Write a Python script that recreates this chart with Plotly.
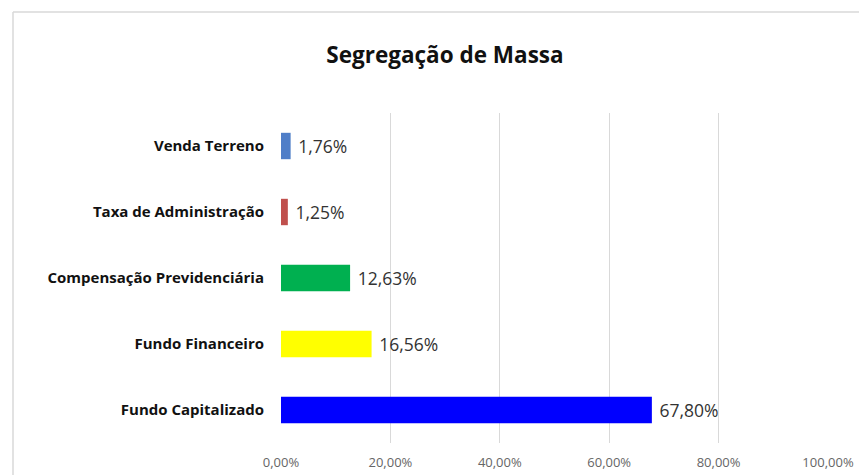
import plotly.graph_objects as go

categories = ["Venda Terreno", "Taxa de Administração", "Compensação Previdenciária",
              "Fundo Financeiro", "Fundo Capitalizado"]
values = [1.76, 1.25, 12.63, 16.56, 67.80]
bar_colors = ["#4F7EC8", "#C0504D", "#00B050", "#FFFF00", "#0000FF"]
tick_values = [0, 20, 40, 60, 80, 100]
tick_labels = ["0,00%", "20,00%", "40,00%", "60,00%", "80,00%", "100,00%"]

labels = [" " + f"{v:.2f}".replace(".", ",") + "%" for v in values]

OFF = 8  # page body margin
W, H = 867 - OFF, 475 - OFF
L, T = 281 - OFF, 113 - OFF
pw, ph = 547, 330
R = W - L - pw
B = H - T - ph

FONT = "Open Sans, Lato, sans-serif"

fig = go.Figure(go.Bar(
    x=values, y=categories, orientation="h",
    marker=dict(color=bar_colors, line=dict(width=0)),
    text=labels, textposition="outside", cliponaxis=False,
    textfont=dict(family=FONT, size=17.5, color="#333333"),
    hoverinfo="skip",
))

def px_x(p):
    return (p - OFF - L) / pw
def px_y(p):
    return 1 - (p - OFF - T) / ph

fig.update_layout(
    width=W, height=H,
    margin=dict(l=L, r=R, t=T, b=B, autoexpand=False),
    paper_bgcolor="white", plot_bgcolor="white",
    bargap=0.6,
    showlegend=False,
    title=dict(text="<b>Segregação de Massa</b>", x=(445 - OFF) / W, y=1 - (55 - OFF) / H,
               xanchor="center", yanchor="middle",
               font=dict(family=FONT, size=22.5, color="#111111")),
    xaxis=dict(range=[0, 100], tickvals=tick_values, ticktext=tick_labels,
               automargin=False,
               showgrid=True, gridcolor="#D9D9D9", gridwidth=1, zeroline=False,
               showline=False, ticks="", ticklabelstandoff=10,
               tickfont=dict(family=FONT, size=13, color="#666666")),
    yaxis=dict(autorange="reversed", showgrid=False, zeroline=False, showline=False,
               automargin=False,
               ticks="", ticklabelstandoff=16,
               tickfont=dict(family=FONT, size=15, color="#111111", weight="bold")),
    shapes=[
        dict(type="line", xref="paper", yref="paper", x0=px_x(13), x1=px_x(880),
             y0=px_y(12), y1=px_y(12), line=dict(color="#D9D9D9", width=1.5)),
        dict(type="line", xref="paper", yref="paper", x0=px_x(13), x1=px_x(13),
             y0=px_y(12), y1=px_y(490), line=dict(color="#D9D9D9", width=1.5)),
    ],
)

fig.write_html("out.html")
